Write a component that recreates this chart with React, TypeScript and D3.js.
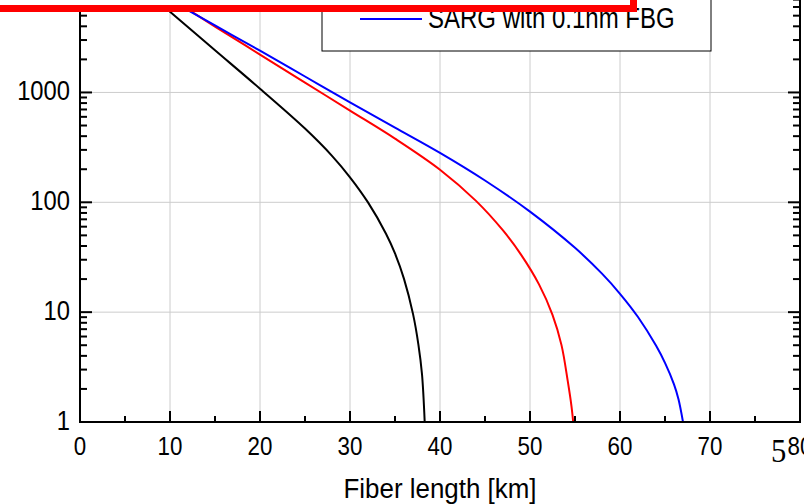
import React from "react";
import * as d3 from "d3";

// ---- data ----
const blackKm = [8, 10, 15, 20, 25, 28, 30, 32, 34, 35, 36, 37, 37.6, 38.0, 38.3];
const blackVal = [7480, 5420, 2421, 1081, 469, 265, 169, 99.8, 51.8, 34.2, 20.1, 9.64, 5.07, 2.72, 1];

const redKm = [10, 15, 20, 25, 30, 35, 40, 44, 47, 49, 51, 52.5, 53.5, 54.2, 54.6, 54.8];
const redVal = [7244, 3981, 2213, 1230, 684, 380, 198, 103, 55.4, 33.4, 17.9, 9.46, 5.01, 2.34, 1.41, 1];

const blueKm = [10, 15, 20, 25, 30, 35, 40, 45, 50, 55, 58, 60, 62, 64, 65, 66, 66.5, 67];
const blueVal = [6920, 4070, 2400, 1397, 813, 479, 282, 158, 82.2, 38.5, 22.4, 14.7, 9.03, 4.96, 3.45, 2.2, 1.61, 1];

const xTicks = [0, 10, 20, 30, 40, 50, 60, 70, 80];
const xMinorTicks = [5, 15, 25, 35, 45, 55, 65, 75];
const yTicks = [1, 10, 100, 1000, 10000];
const yLabelTicks = [1, 10, 100, 1000];
const yTickLabels = ["1", "10", "100", "1000"];

const legendLabel = "SARG with 0.1nm FBG";
const xTitle = "Fiber length [km]";

const FONT = "'Liberation Sans', Arial, sans-serif";

function CText(props: { x: number; y: number; anchor?: string; size: number; sx: number; children: any; family?: string }) {
  const { x, y, anchor = "start", size, sx, children, family = FONT } = props;
  return (
    <text
      transform={`translate(${x},${y}) scale(${sx},1)`}
      textAnchor={anchor}
      fontFamily={family}
      fontSize={size}
      fill="#000"
    >
      {children}
    </text>
  );
}

export default function App() {
  const W = 804, H = 504;
  const x = d3.scaleLinear().domain([0, 80]).range([80, 800]);
  const y = d3.scaleLog().domain([1, 10000]).range([422, -17.4]);

  const mk = (ks: number[], vs: number[]) =>
    d3
      .line<number>()
      .x((_, i) => x(ks[i]))
      .y((_, i) => y(vs[i]))
      .curve(d3.curveCatmullRom.alpha(0.5))(ks as any) as string;

  const series = [
    { ks: blackKm, vs: blackVal, color: "#000000" },
    { ks: redKm, vs: redVal, color: "#ff0000" },
    { ks: blueKm, vs: blueVal, color: "#0000ff" },
  ];

  const minorY: number[] = [];
  for (let d = 1; d < 10000; d *= 10) for (let m = 2; m <= 9; m++) minorY.push(d * m);

  const x0 = x(0), x1 = x(80), yb = y(1), yt = y(10000);

  return (
    <svg width={W} height={H} style={{ position: "absolute", left: 0, top: 0, background: "#fff" }}>
      <defs>
        <clipPath id="plot">
          <rect x={x0} y={yt} width={x1 - x0} height={yb - yt} />
        </clipPath>
      </defs>
      <rect x={0} y={0} width={W} height={H} fill="#fff" />
      {/* grid */}
      <g stroke="#cccccc" strokeWidth={1}>
        {xTicks.slice(1, -1).map((t) => (
          <line key={"gx" + t} x1={x(t)} x2={x(t)} y1={yt} y2={yb} />
        ))}
        {yTicks.slice(1).map((t) => (
          <line key={"gy" + t} x1={x0} x2={x1} y1={y(t)} y2={y(t)} />
        ))}
      </g>
      {/* curves */}
      <g clipPath="url(#plot)" fill="none" strokeWidth={2}>
        {series.map((s, i) => (
          <path key={i} d={mk(s.ks, s.vs)} stroke={s.color} />
        ))}
      </g>
      {/* axes */}
      <g stroke="#000" strokeWidth={2}>
        <line x1={x0} x2={x0} y1={yt} y2={yb + 1} />
        <line x1={x1} x2={x1} y1={yt} y2={yb + 1} />
        <line x1={x0 - 1} x2={x1 + 1} y1={yb} y2={yb} />
        {xTicks.map((t) => (
          <line key={"xt" + t} x1={x(t)} x2={x(t)} y1={yb} y2={yb - 11} />
        ))}
        {xMinorTicks.map((t) => (
          <line key={"xm" + t} x1={x(t)} x2={x(t)} y1={yb} y2={yb - 6} />
        ))}
        {yTicks.map((t) => (
          <g key={"yt" + t}>
            <line x1={x0} x2={x0 + 12} y1={y(t)} y2={y(t)} />
            <line x1={x1} x2={x1 - 12} y1={y(t)} y2={y(t)} />
          </g>
        ))}
        {minorY.map((t) => (
          <g key={"ym" + t}>
            <line x1={x0} x2={x0 + 7} y1={y(t)} y2={y(t)} />
            <line x1={x1} x2={x1 - 7} y1={y(t)} y2={y(t)} />
          </g>
        ))}
      </g>
      {/* tick labels */}
      {yLabelTicks.map((t, i) => (
        <CText key={"yl" + t} x={70} y={y(t) + 8} anchor="end" size={27} sx={0.88}>
          {yTickLabels[i]}
        </CText>
      ))}
      {xTicks.map((t) => (
        <CText key={"xl" + t} x={x(t)} y={455} anchor="middle" size={26} sx={0.86}>
          {String(t)}
        </CText>
      ))}
      <CText x={771} y={462} size={34} sx={0.9} family="'Liberation Serif', 'Times New Roman', serif">
        5
      </CText>
      <CText x={440} y={498} anchor="middle" size={27} sx={0.96}>
        {xTitle}
      </CText>
      {/* legend */}
      <rect x={322} y={-20} width={389} height={71} fill="#fff" stroke="#000" strokeWidth={1} />
      <line x1={360} x2={422} y1={19} y2={19} stroke="#0000ff" strokeWidth={2} />
      <CText x={428} y={28} size={30} sx={0.8}>
        {legendLabel}
      </CText>
      {/* red frame overlay at top */}
      <rect x={0} y={0} width={630} height={5} fill="#fff" />
      <rect x={0} y={5} width={637} height={7} fill="#ff0000" />
      <rect x={630} y={0} width={7} height={12} fill="#ff0000" />
    </svg>
  );
}
